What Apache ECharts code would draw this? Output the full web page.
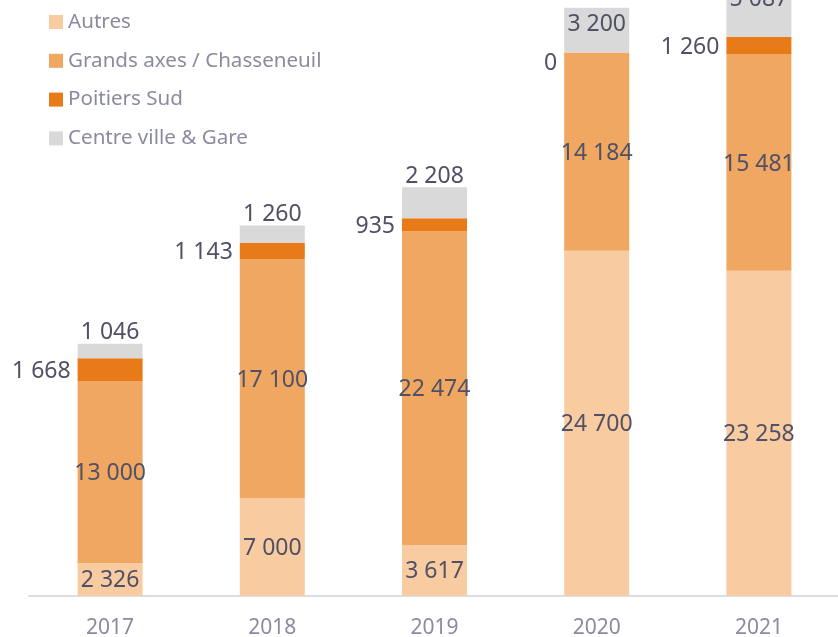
<!DOCTYPE html>
<html>
<head>
<meta charset="utf-8">
<script src="https://cdn.jsdelivr.net/npm/echarts@6/dist/echarts.min.js"></script>
<style>html,body{margin:0;padding:0;background:#fff;}#chart{width:838px;height:637px;}</style>
</head>
<body>
<div id="chart"></div>
<script>
const years = ['2017', '2018', '2019', '2020', '2021'];
const autres = [2326, 7000, 3617, 24700, 23258];
const grandsAxes = [13000, 17100, 22474, 14184, 15481];
const poitiersSud = [1668, 1143, 935, 0, 1260];
const centreVille = [1046, 1260, 2208, 3200, 5087];
const seriesNames = ['Autres', 'Grands axes / Chasseneuil', 'Poitiers Sud', 'Centre ville & Gare'];

const FONT = '"Noto Sans", "Open Sans", sans-serif';
const valColor = '#505066';
const lightText = '#8b8ba0';
const fmt = p => String(p.value).replace(/\B(?=(\d{3})+(?!\d))/g, ' ');
const lbl = extra => Object.assign({show: true, color: valColor, fontSize: 23, fontFamily: FONT, formatter: fmt}, extra);

const chart = echarts.init(document.getElementById('chart'));
chart.setOption({
  animation: false,
  backgroundColor: '#ffffff',
  legend: {
    orient: 'vertical', left: 44, top: 6.5, padding: 5, itemWidth: 14, itemHeight: 14, itemGap: 17.8,
    icon: 'rect',
    textStyle: {color: lightText, fontSize: 20.6, fontFamily: FONT},
    data: seriesNames
  },
  grid: {left: 29, right: -2, top: -102.8, bottom: 41.3, containLabel: false, outerBoundsMode: 'none'},
  xAxis: {
    type: 'category', data: years,
    axisLine: {lineStyle: {color: '#dcdce4', width: 2}},
    axisTick: {show: false},
    axisLabel: {color: lightText, fontSize: 21, fontFamily: FONT, margin: 22}
  },
  yAxis: {type: 'value', min: 0, max: 50000, show: false, splitLine: {show: false}},
  series: [
    {name: seriesNames[0], type: 'bar', stack: 's', barWidth: 65, data: autres,
     itemStyle: {color: '#F8CBA0'}, label: lbl({position: 'inside', offset: [0, 1.5]})},
    {name: seriesNames[1], type: 'bar', stack: 's', data: grandsAxes,
     itemStyle: {color: '#F0A762'}, label: lbl({position: 'inside', offset: [0, 1.5]})},
    {name: seriesNames[2], type: 'bar', stack: 's',
     data: poitiersSud.map((v, i) => i === 3 ? {value: v, label: {offset: [0, 11]}} : v),
     itemStyle: {color: '#E97A18'}, label: lbl({position: 'left', distance: 7, offset: [0, 1.5]})},
    {name: seriesNames[3], type: 'bar', stack: 's',
     data: centreVille.map((v, i) => {
       if (i === 3) return {value: v, label: {position: 'insideTop', distance: 3.5}};
       if (i === 4) return {value: v, label: {position: 'insideTop', distance: 20.5}};
       return v;
     }),
     itemStyle: {color: '#D9D9D9'}, label: lbl({position: 'top', distance: 1, offset: [0, 1.5]})}
  ]
});
</script>
</body>
</html>
